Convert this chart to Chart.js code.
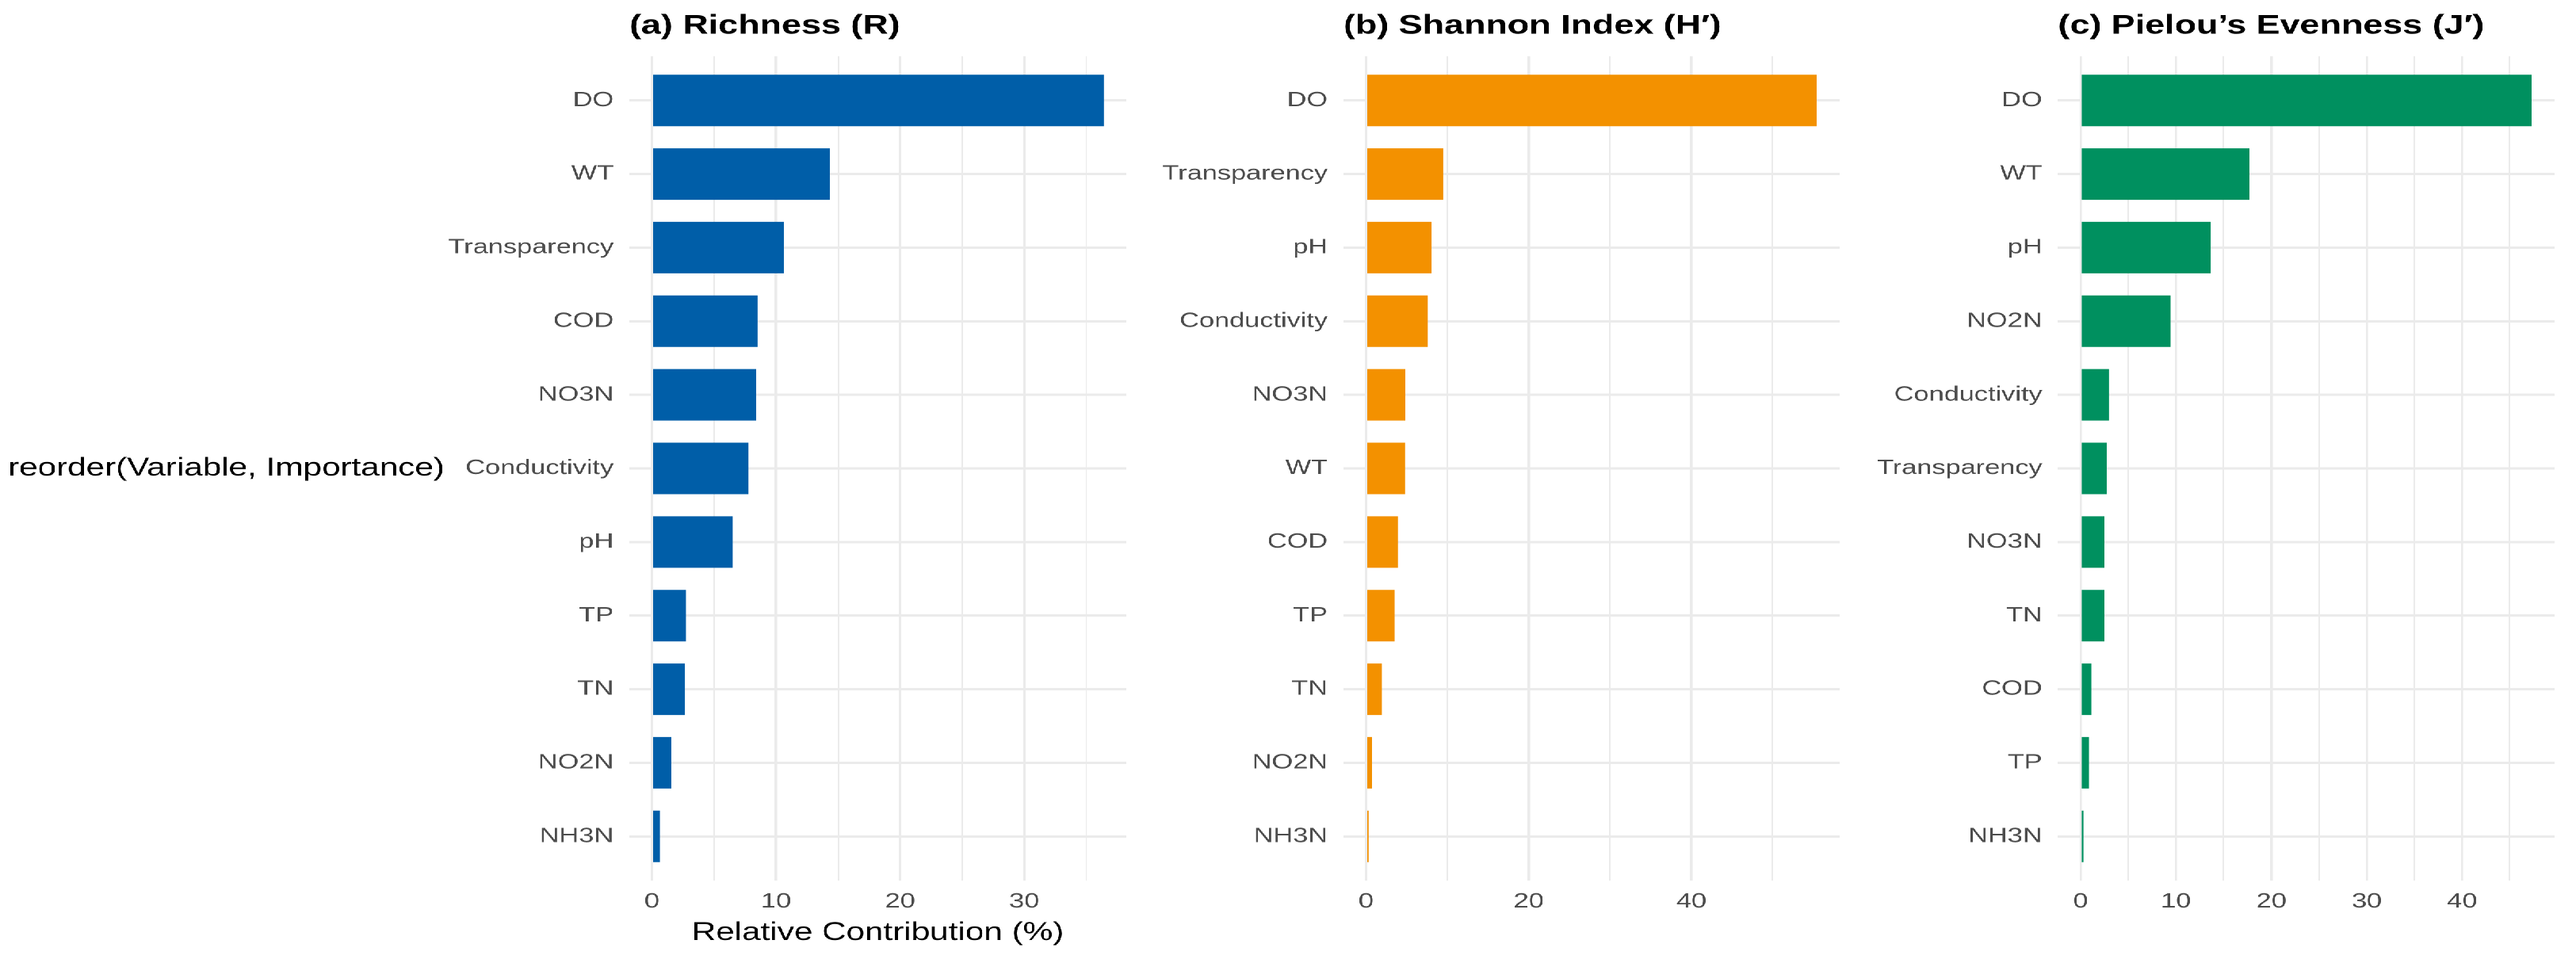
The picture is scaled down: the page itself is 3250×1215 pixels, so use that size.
<!DOCTYPE html>
<html>
<head>
<meta charset="utf-8">
<script src="https://cdn.jsdelivr.net/npm/chart.js@4.4.1/dist/chart.umd.min.js"></script>
<style>
  html, body { margin: 0; padding: 0; background: #fff; overflow: hidden; }
  /* the reference figure is stretched sideways, so the whole thing is drawn narrow and scaled */
  #wrap { position: absolute; left: 0; top: 0; width: 2462px; height: 1215px; transform: scaleX(1.32); transform-origin: 0 0; }
  canvas { position: absolute; top: 0; }
</style>
</head>
<body>
<div id="wrap">
  <canvas id="richChart" width="1090" height="1215" style="left:0px"></canvas>
  <canvas id="shannonChart" width="680" height="1215" style="left:1090px"></canvas>
  <canvas id="evenChart" width="692" height="1215" style="left:1770px"></canvas>
</div>
<script>
// top to bottom, as in the figure
const richLabels = ['DO', 'WT', 'Transparency', 'COD', 'NO3N', 'Conductivity', 'pH', 'TP', 'TN', 'NO2N', 'NH3N'];
const richValues = [36.4, 14.35, 10.65, 8.5, 8.4, 7.8, 6.5, 2.75, 2.65, 1.55, 0.65];
const richTicks = [0, 10, 20, 30];

const shannonLabels = ['DO', 'Transparency', 'pH', 'Conductivity', 'NO3N', 'WT', 'COD', 'TP', 'TN', 'NO2N', 'NH3N'];
const shannonValues = [55.4, 9.5, 8.1, 7.6, 4.85, 4.8, 3.9, 3.5, 1.95, 0.75, 0.3];
const shannonTicks = [0, 20, 40];

const evenLabels = ['DO', 'WT', 'pH', 'NO2N', 'Conductivity', 'Transparency', 'NO3N', 'TN', 'COD', 'TP', 'NH3N'];
const evenValues = [47.3, 17.7, 13.65, 9.45, 3.0, 2.75, 2.5, 2.48, 1.12, 0.9, 0.3];
const evenTicks = [0, 10, 20, 30, 40];

const FONT = '"Liberation Sans", Arial, Helvetica, sans-serif';
const GRID = '#EBEBEB';

const yTitlePlugin = {
    id: 'yTitle',
    afterDraw(chart, args, opts) {
        if (!opts.text) return;
        const ctx = chart.ctx;
        const area = chart.chartArea;
        ctx.save();
        ctx.font = '32px ' + FONT;
        ctx.fillStyle = '#000';
        ctx.textAlign = 'left';
        ctx.textBaseline = 'middle';
        ctx.fillText(opts.text, 7.6, (area.top + area.bottom) / 2);
        ctx.restore();
    }
};

function makePanel(id, title, labels, values, tickVals, color, axisWidth, padRight, xTitle, yTitle) {
    const n = labels.length;
    const top = Math.max(...values);
    const step = tickVals[1] - tickVals[0];
    const half = step / 2;
    const points = values.map((v, i) => ({ x: v, y: n - i }));

    return new Chart(document.getElementById(id), {
        type: 'bar',
        data: {
            datasets: [{
                data: points,
                backgroundColor: color,
                borderWidth: 0,
                categoryPercentage: 0.7,
                barPercentage: 1.0
            }]
        },
        options: {
            indexAxis: 'y',
            responsive: false,
            animation: false,
            devicePixelRatio: 2,
            layout: { padding: { left: 0, right: padRight, top: 0, bottom: 0 } },
            scales: {
                x: {
                    type: 'linear',
                    min: -0.05 * top,
                    max: 1.05 * top,
                    offset: false,
                    afterBuildTicks: (axis) => {
                        const t = [];
                        for (let v = 0; v <= axis.max; v += half) t.push({ value: v });
                        axis.ticks = t;
                    },
                    afterFit: (axis) => { axis.height = 104; },
                    grid: {
                        color: GRID,
                        offset: false,
                        lineWidth: (ctx) => (ctx.tick && ctx.tick.value % step === 0) ? 2.3 : 1.5,
                        drawTicks: false
                    },
                    border: { display: false },
                    ticks: {
                        autoSkip: false,
                        maxRotation: 0,
                        padding: 11,
                        color: '#4D4D4D',
                        font: { family: FONT, size: 26 },
                        callback: (v) => tickVals.includes(v) ? String(v) : ''
                    },
                    title: {
                        display: !!xTitle,
                        text: xTitle || '',
                        color: '#000',
                        font: { family: FONT, size: 32 },
                        padding: { top: 0, bottom: 18.8 }
                    }
                },
                y: {
                    type: 'linear',
                    min: 0.4,
                    max: n + 0.6,
                    offset: false,
                    afterBuildTicks: (axis) => {
                        axis.ticks = labels.map((_, i) => ({ value: i + 1 }));
                    },
                    afterFit: (axis) => { axis.width = axisWidth; },
                    grid: { color: GRID, lineWidth: 3, drawTicks: false, offset: false },
                    border: { display: false },
                    ticks: {
                        autoSkip: false,
                        padding: 15,
                        color: '#4D4D4D',
                        font: { family: FONT, size: 26 },
                        callback: (v) => labels[n - v]
                    }
                }
            },
            plugins: {
                legend: { display: false },
                tooltip: { enabled: false },
                title: {
                    display: true,
                    text: title,
                    align: 'start',
                    fullSize: false,
                    color: '#000',
                    font: { family: FONT, size: 34, weight: 'bold' },
                    padding: { top: 12.6, bottom: 17.6 }
                },
                yTitle: { text: yTitle || '' }
            }
        },
        plugins: [yTitlePlugin]
    });
}

makePanel('richChart', '(a) Richness (R)', richLabels, richValues, richTicks, '#005EA8', 601.5, 13.5,
    'Relative Contribution (%)', 'reorder(Variable, Importance)');
makePanel('shannonChart', '(b) Shannon Index (H\u2032)', shannonLabels, shannonValues, shannonTicks, '#F39100', 194, 12);
makePanel('evenChart', '(c) Pielou\u2019s Evenness (J\u2032)', evenLabels, evenValues, evenTicks, '#00905F', 197, 20.5);
</script>
</body>
</html>
